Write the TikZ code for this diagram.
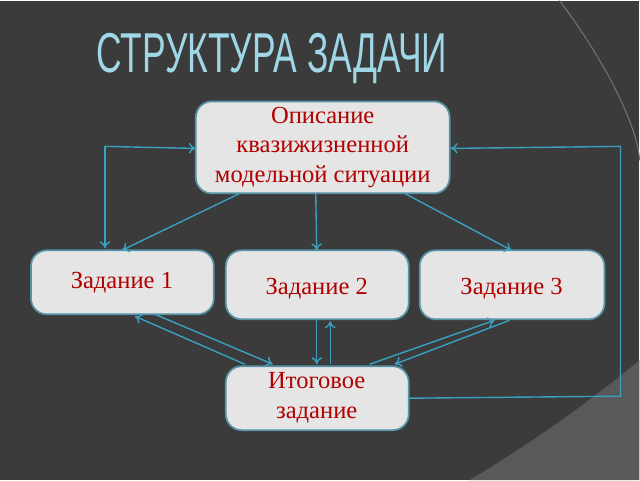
\documentclass[tikz,border=0pt]{standalone}
\usepackage{fontspec}
\setmainfont{Liberation Serif}
\newfontfamily\titlefont{Liberation Sans}
\usetikzlibrary{arrows.meta}

\definecolor{linkblue}{RGB}{58,160,192}
\definecolor{titleblue}{RGB}{160,215,230}

\begin{document}
\begin{tikzpicture}[x=0.02cm,y=-0.02cm,
  box/.style={draw=linkblue!60!gray,line width=1pt,fill=gray!20,rounded corners=9pt},
  label/.style={text=red!70!black,font=\fontsize{14}{17}\selectfont,align=center,inner sep=0pt},
  link/.style={draw=linkblue,line width=0.8pt,-{To[length=4pt,width=6pt]}}]

\fill[black!77] (0,0) rectangle (640,480);
\fill[black!65] (640,360) .. controls (580,410) and (520,450) .. (470,480) -- (640,480) -- cycle;
\draw[black!55,line width=0.6pt] (560,0) .. controls (620,80) and (640,140) .. (640,160);

\node[font=\titlefont\fontsize{32}{32}\selectfont,text=titleblue,xscale=0.63] (title) at (272,58) {СТРУКТУРА ЗАДАЧИ};

\path[box] (196,101) rectangle (450,193);
\path[box] (31,250) rectangle (214,314);
\path[box] (226,250) rectangle (409,319);
\path[box] (420,250) rectangle (605,319);
\path[box] (226,366) rectangle (409,430);
\node[label] (situation) at (323,147) {Описание\\квазижизненной\\модельной ситуации};
\node[label] (task1) at (122,282) {Задание 1};
\node[label] (task2) at (317,288) {Задание 2};
\node[label] (task3) at (512,288) {Задание 3};
\node[label] (final) at (317,398) {Итоговое\\задание};

\coordinate (t1) at (240,193); \coordinate (t2) at (316,193); \coordinate (t3) at (405,193);
\coordinate (a1) at (122,250); \coordinate (a2) at (317,250); \coordinate (a3) at (512,250);
\draw[link] (t1) -- (a1);
\draw[link] (t2) -- (a2);
\draw[link] (t3) -- (a3);

\coordinate (l1) at (105,146); \coordinate (r1) at (621,146); \coordinate (r2) at (621,396);
\draw[link] (l1) -- (105,248);
\draw[link] (l1) -- (196,148);
\draw[link] (409,398) -- (r2) -- (r1) -- (451,148);

\draw[link] (245,364) -- (135,316);
\draw[link] (155,314) -- (273,364);
\draw[link] (317,319) -- (317,364);
\draw[link] (330.5,364) -- (330.5,321);
\draw[link] (370,364) -- (495,320);
\draw[link] (510,320) -- (395,364);
\end{tikzpicture}
\end{document}
